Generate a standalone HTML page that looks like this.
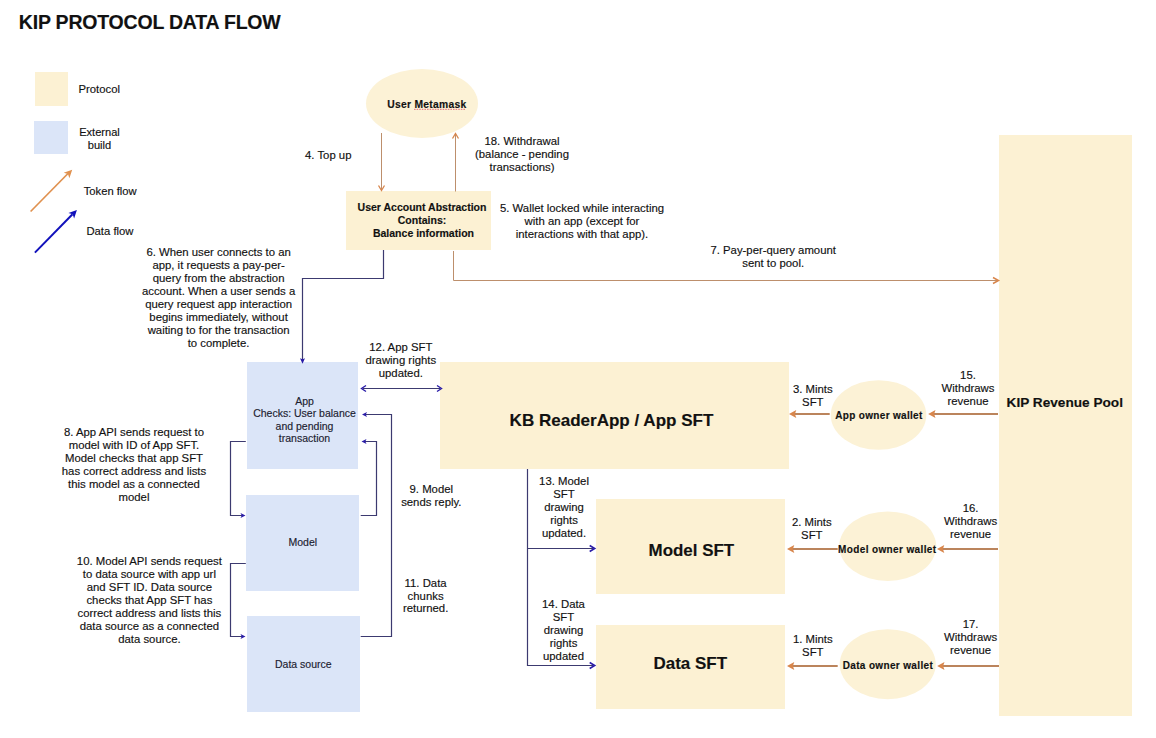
<!DOCTYPE html>
<html><head><meta charset="utf-8"><style>
html,body{margin:0;padding:0;background:#fff;}
body{width:1156px;height:738px;position:relative;overflow:hidden;font-family:"Liberation Sans",sans-serif;}
.r{position:absolute;}
.s{position:absolute;left:0;top:0;}
.t{position:absolute;white-space:nowrap;-webkit-text-stroke:0.15px currentColor;}
</style></head><body>
<div class="r" style="left:35px;top:72px;width:33px;height:34px;background:#fcf1d3"></div>
<div class="r" style="left:34px;top:121px;width:34px;height:33px;background:#dbe5f8"></div>
<div class="r" style="left:346px;top:191px;width:145px;height:59px;background:#fcf1d3"></div>
<div class="r" style="left:247px;top:362px;width:111px;height:107px;background:#dbe5f8"></div>
<div class="r" style="left:246px;top:495px;width:113px;height:96px;background:#dbe5f8"></div>
<div class="r" style="left:247px;top:616px;width:113px;height:96px;background:#dbe5f8"></div>
<div class="r" style="left:440px;top:362px;width:349px;height:107px;background:#fcf1d3"></div>
<div class="r" style="left:596px;top:499px;width:189px;height:95px;background:#fcf1d3"></div>
<div class="r" style="left:596px;top:625px;width:189px;height:84px;background:#fcf1d3"></div>
<div class="r" style="left:999px;top:135px;width:132.5px;height:581px;background:#fcf1d3"></div>
<svg class="s" width="1156" height="738" viewBox="0 0 1156 738"><ellipse cx="422" cy="103.5" rx="56" ry="34.5" fill="#fcf2d6"/><ellipse cx="878.5" cy="415" rx="47.8" ry="34.8" fill="#fcf2d6"/><ellipse cx="887.7" cy="546.2" rx="48.5" ry="34.8" fill="#fcf2d6"/><ellipse cx="887.7" cy="664.2" rx="48" ry="35" fill="#fcf2d6"/><polyline points="381.5,133 381.5,190" fill="none" stroke="#bd8f6c" stroke-width="1.0"/><polyline points="378.50,185.50 381.5,190.5 384.50,185.50" fill="none" stroke="#d8864c" stroke-width="1.3" stroke-linejoin="miter"/><polyline points="455.5,191.5 455.5,134" fill="none" stroke="#bd8f6c" stroke-width="1.0"/><polyline points="458.50,138.50 455.5,133.5 452.50,138.50" fill="none" stroke="#d8864c" stroke-width="1.3" stroke-linejoin="miter"/><polyline points="453.5,251 453.5,280.5 998,280.5" fill="none" stroke="#bd8f6c" stroke-width="1.0"/><polyline points="993.00,283.50 998.5,280.5 993.00,277.50" fill="none" stroke="#d8864c" stroke-width="1.5" stroke-linejoin="miter"/><polyline points="30.6,211.5 68,173.5" fill="none" stroke="#e0914f" stroke-width="1.7"/><polygon points="72.2,169.8 69.38,178.29 67.96,174.05 63.72,172.64" fill="#e0914f"/><polyline points="34.9,252.6 72.5,214.3" fill="none" stroke="#1111bb" stroke-width="2.0"/><polygon points="76.9,210.1 74.12,218.60 72.68,214.37 68.43,212.98" fill="#1111bb"/><polyline points="998,414 932.2,414" fill="none" stroke="#bb845c" stroke-width="1.9"/><polygon points="928.2,414 935.50,410.10 934.10,414.00 935.50,417.90" fill="#d8864c"/><polyline points="829.7,414 793,414" fill="none" stroke="#bb845c" stroke-width="1.9"/><polygon points="789,414 796.30,410.10 794.90,414.00 796.30,417.90" fill="#d8864c"/><polyline points="998,549 941,549" fill="none" stroke="#bb845c" stroke-width="1.9"/><polygon points="937,549 944.30,545.10 942.90,549.00 944.30,552.90" fill="#d8864c"/><polyline points="837.7,549 791,549" fill="none" stroke="#bb845c" stroke-width="1.9"/><polygon points="787,549 794.30,545.10 792.90,549.00 794.30,552.90" fill="#d8864c"/><polyline points="999,666 941.2,666" fill="none" stroke="#bb845c" stroke-width="1.9"/><polygon points="937.2,666 944.50,662.10 943.10,666.00 944.50,669.90" fill="#d8864c"/><polyline points="837.7,666 791,666" fill="none" stroke="#bb845c" stroke-width="1.9"/><polygon points="787,666 794.30,662.10 792.90,666.00 794.30,669.90" fill="#d8864c"/><polyline points="383.5,250 383.5,278.5 302.5,278.5 302.5,360" fill="none" stroke="#3c3a70" stroke-width="1.2"/><polygon points="302.5,363.8 300.00,358.20 302.50,359.20 305.00,358.20" fill="#2a1ca8"/><polyline points="363,388.5 440,388.5" fill="none" stroke="#3c3a70" stroke-width="1.2"/><polyline points="366.00,385.50 361.5,388.5 366.00,391.50" fill="none" stroke="#2a1ca8" stroke-width="1.4" stroke-linejoin="miter"/><polyline points="437.00,391.50 441.5,388.5 437.00,385.50" fill="none" stroke="#2a1ca8" stroke-width="1.4" stroke-linejoin="miter"/><polyline points="360.7,636.5 391.5,636.5 391.5,414.5 364,414.5" fill="none" stroke="#3c3a70" stroke-width="1.2"/><polygon points="362,414.5 367.00,411.90 365.80,414.50 367.00,417.10" fill="#2a1ca8"/><polyline points="360.7,515.5 376.5,515.5 376.5,441.5 363.5,441.5" fill="none" stroke="#3c3a70" stroke-width="1.2"/><polygon points="361.5,441.5 366.50,438.90 365.30,441.50 366.50,444.10" fill="#2a1ca8"/><polyline points="245.8,441.5 230.5,441.5 230.5,515.5 243,515.5" fill="none" stroke="#3c3a70" stroke-width="1.2"/><polygon points="245.5,515.5 240.50,518.10 241.70,515.50 240.50,512.90" fill="#2a1ca8"/><polyline points="245.8,563.5 230.5,563.5 230.5,636.5 243,636.5" fill="none" stroke="#3c3a70" stroke-width="1.2"/><polygon points="245.5,636.5 240.50,639.10 241.70,636.50 240.50,633.90" fill="#2a1ca8"/><polyline points="527.5,469 527.5,665.5 593,665.5" fill="none" stroke="#3c3a70" stroke-width="1.2"/><polyline points="589.70,668.50 594.7,665.5 589.70,662.50" fill="none" stroke="#2a1ca8" stroke-width="1.6" stroke-linejoin="miter"/><polyline points="527.5,548.5 593,548.5" fill="none" stroke="#3c3a70" stroke-width="1.2"/><polyline points="589.70,551.50 594.7,548.5 589.70,545.50" fill="none" stroke="#2a1ca8" stroke-width="1.6" stroke-linejoin="miter"/><line x1="414" y1="109.3" x2="465" y2="109.3" stroke="#e58c8c" stroke-width="1.3" stroke-dasharray="1.6 1.0"/></svg>
<div class="t" style="left:18.80px;top:11.00px;font-size:19.5px;line-height:22px;font-weight:bold;color:#111;white-space:nowrap;letter-spacing:-0.2px;">KIP PROTOCOL DATA FLOW</div>
<div class="t" style="left:78.50px;top:83.00px;font-size:11.3px;line-height:12.9px;font-weight:normal;color:#111;white-space:nowrap;">Protocol</div>
<div class="t" style="left:69.50px;top:126.00px;width:60px;text-align:center;font-size:11.1px;line-height:12.9px;font-weight:normal;color:#111;">External<br>build</div>
<div class="t" style="left:83.70px;top:185.00px;font-size:11.22px;line-height:12.9px;font-weight:normal;color:#111;white-space:nowrap;">Token flow</div>
<div class="t" style="left:86.40px;top:225.00px;font-size:11.3px;line-height:12.9px;font-weight:normal;color:#111;white-space:nowrap;">Data flow</div>
<div class="t" style="left:387.30px;top:99.00px;font-size:10.3px;line-height:12.9px;font-weight:bold;color:#111;white-space:nowrap;letter-spacing:0.28px;">User Metamask</div>
<div class="t" style="left:322.00px;top:201.00px;width:200px;text-align:center;font-size:10.52px;line-height:13.1px;font-weight:bold;color:#111;white-space:pre;">User Account Abstraction<br>Contains:<br> Balance information</div>
<div class="t" style="left:305.00px;top:149.00px;font-size:11.35px;line-height:12.9px;font-weight:normal;color:#111;white-space:nowrap;">4. Top up</div>
<div class="t" style="left:422.00px;top:135.00px;width:200px;text-align:center;font-size:11.35px;line-height:12.8px;font-weight:normal;color:#111;">18. Withdrawal<br>(balance - pending<br>transactions)</div>
<div class="t" style="left:457.00px;top:202.00px;width:250px;text-align:center;font-size:11.35px;line-height:12.95px;font-weight:normal;color:#111;">5. Wallet locked while interacting<br>with an app (except for<br>interactions with that app).</div>
<div class="t" style="left:673.20px;top:244.00px;width:200px;text-align:center;font-size:11.35px;line-height:13.1px;font-weight:normal;color:#111;">7. Pay-per-query amount<br>sent to pool.</div>
<div class="t" style="left:108.60px;top:246.00px;width:220px;text-align:center;font-size:11.35px;line-height:13.02px;font-weight:normal;color:#111;">6. When user connects to an<br>app, it requests a pay-per-<br>query from the abstraction<br>account. When a user sends a<br>query request app interaction<br>begins immediately, without<br>waiting to for the transaction<br>to complete.</div>
<div class="t" style="left:340.80px;top:341.00px;width:120px;text-align:center;font-size:11.35px;line-height:13.0px;font-weight:normal;color:#111;">12. App SFT<br>drawing rights<br>updated.</div>
<div class="t" style="left:244.50px;top:395.00px;width:120px;text-align:center;font-size:10.5px;line-height:12.3px;font-weight:normal;color:#1c1c30;">App<br>Checks: User balance<br>and pending<br>transaction</div>
<div class="t" style="left:34.00px;top:426.00px;width:200px;text-align:center;font-size:11.35px;line-height:12.92px;font-weight:normal;color:#111;">8. App API sends request to<br>model with ID of App SFT.<br>Model checks that app SFT<br>has correct address and lists<br>this model as a connected<br>model</div>
<div class="t" style="left:252.80px;top:536.00px;width:100px;text-align:center;font-size:10.5px;line-height:12.9px;font-weight:normal;color:#1c1c30;">Model</div>
<div class="t" style="left:248.30px;top:658.00px;width:110px;text-align:center;font-size:10.5px;line-height:12.9px;font-weight:normal;color:#1c1c30;">Data source</div>
<div class="t" style="left:39.40px;top:555.00px;width:220px;text-align:center;font-size:11.35px;line-height:12.98px;font-weight:normal;color:#111;">10. Model API sends request<br>to data source with app url<br>and SFT ID. Data source<br>checks that App SFT has<br>correct address and lists this<br>data source as a connected<br>data source.</div>
<div class="t" style="left:381.30px;top:483.00px;width:100px;text-align:center;font-size:11.35px;line-height:12.7px;font-weight:normal;color:#111;">9. Model<br>sends reply.</div>
<div class="t" style="left:375.60px;top:577.00px;width:100px;text-align:center;font-size:11.35px;line-height:12.7px;font-weight:normal;color:#111;">11. Data<br>chunks<br>returned.</div>
<div class="t" style="left:509.60px;top:415.00px;font-size:17.05px;line-height:12.9px;font-weight:bold;color:#111;white-space:nowrap;">KB ReaderApp / App SFT</div>
<div class="t" style="left:514.00px;top:475.00px;width:100px;text-align:center;font-size:11.35px;line-height:13.1px;font-weight:normal;color:#111;">13. Model<br>SFT<br>drawing<br>rights<br>updated.</div>
<div class="t" style="left:513.50px;top:598.00px;width:100px;text-align:center;font-size:11.35px;line-height:13.1px;font-weight:normal;color:#111;">14. Data<br>SFT<br>drawing<br>rights<br>updated</div>
<div class="t" style="left:648.60px;top:545.00px;font-size:16.93px;line-height:12.9px;font-weight:bold;color:#111;white-space:nowrap;">Model SFT</div>
<div class="t" style="left:653.50px;top:658.00px;font-size:16.98px;line-height:12.9px;font-weight:bold;color:#111;white-space:nowrap;">Data SFT</div>
<div class="t" style="left:772.80px;top:383.00px;width:80px;text-align:center;font-size:11.35px;line-height:12.7px;font-weight:normal;color:#111;">3. Mints<br>SFT</div>
<div class="t" style="left:771.80px;top:516.00px;width:80px;text-align:center;font-size:11.35px;line-height:12.9px;font-weight:normal;color:#111;">2. Mints<br>SFT</div>
<div class="t" style="left:772.80px;top:633.00px;width:80px;text-align:center;font-size:11.35px;line-height:12.7px;font-weight:normal;color:#111;">1. Mints<br>SFT</div>
<div class="t" style="left:918.00px;top:369.00px;width:100px;text-align:center;font-size:11.35px;line-height:12.75px;font-weight:normal;color:#111;">15.<br>Withdraws<br>revenue</div>
<div class="t" style="left:920.60px;top:502.00px;width:100px;text-align:center;font-size:11.35px;line-height:12.95px;font-weight:normal;color:#111;">16.<br>Withdraws<br>revenue</div>
<div class="t" style="left:920.60px;top:618.00px;width:100px;text-align:center;font-size:11.35px;line-height:12.95px;font-weight:normal;color:#111;">17.<br>Withdraws<br>revenue</div>
<div class="t" style="left:835.30px;top:410.00px;font-size:10.0px;line-height:12.9px;font-weight:bold;color:#111;white-space:nowrap;letter-spacing:0.32px;">App owner wallet</div>
<div class="t" style="left:838.10px;top:544.00px;font-size:10.0px;line-height:12.9px;font-weight:bold;color:#111;white-space:nowrap;letter-spacing:0.37px;">Model owner wallet</div>
<div class="t" style="left:842.70px;top:660.00px;font-size:10.0px;line-height:12.9px;font-weight:bold;color:#111;white-space:nowrap;letter-spacing:0.35px;">Data owner wallet</div>
<div class="t" style="left:1006.60px;top:397.00px;font-size:13.64px;line-height:12.9px;font-weight:bold;color:#111;white-space:nowrap;">KIP Revenue Pool</div>
</body></html>
